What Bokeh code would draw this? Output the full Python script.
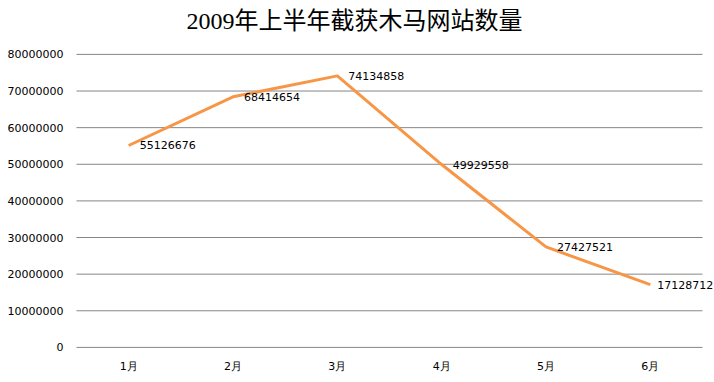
from bokeh.plotting import figure
from bokeh.models import ColumnDataSource, FixedTicker, BasicTickFormatter, Title, Range1d, FactorRange
from bokeh.core.properties import value
from bokeh.transform import dodge
from bokeh.embed import file_html
from bokeh.resources import INLINE

title_text = "2009年上半年截获木马网站数量"
months = ["1月", "2月", "3月", "4月", "5月", "6月"]
counts = [55126676, 68414654, 74134858, 49929558, 27427521, 17128712]
y_ticks = [0, 10000000, 20000000, 30000000, 40000000, 50000000, 60000000, 70000000, 80000000]

src = ColumnDataSource(dict(
    m=months, v=counts, lab=[str(c) for c in counts],
    xo=[11, 11, 11, 11, 11, 7],
))
grid_src = ColumnDataSource(dict(
    y=y_ticks, f0=[months[0]] * len(y_ticks), f1=[months[-1]] * len(y_ticks),
))

xr = FactorRange(*months, range_padding=0.115, range_padding_units="absolute")
p = figure(x_range=xr, y_range=Range1d(-300000, 84340000),
           width=714, height=382, frame_width=650, frame_height=310,
           min_border_left=64, min_border_right=0, min_border_top=38, min_border_bottom=34,
           output_backend="svg", toolbar_location=None,
           background_fill_color="white", border_fill_color="white",
           outline_line_color=None)

t = Title(text=title_text, align="left", offset=122, standoff=10,
          text_font="Liberation Serif, Noto Sans CJK SC",
          text_font_size="24px", text_font_style="normal", text_color="black")
p.add_layout(t, "above")

# horizontal gridlines spanning only the category band
p.segment(x0=dodge("f0", -0.5, range=xr), x1=dodge("f1", 0.5, range=xr),
          y0="y", y1="y", source=grid_src, line_color="#868686", line_width=1)

p.line(x="m", y="v", source=src, line_color="#F79646", line_width=3)
p.text(x="m", y="v", text="lab", source=src, x_offset="xo",
       text_font=value("DejaVu Sans"), text_font_size="11px",
       text_baseline="middle", text_align="left", text_color="black")

p.xgrid.grid_line_color = None
p.ygrid.grid_line_color = None

p.yaxis.ticker = FixedTicker(ticks=y_ticks)
p.yaxis.formatter = BasicTickFormatter(use_scientific=False)
for ax in (p.xaxis, p.yaxis):
    ax.axis_line_color = None
    ax.major_tick_line_color = None
    ax.minor_tick_line_color = None
    ax.major_tick_out = 0
    ax.major_tick_in = 0
    ax.minor_tick_out = 0
    ax.minor_tick_in = 0
    ax.major_label_text_font = "DejaVu Sans"
    ax.major_label_text_font_size = "11px"
    ax.major_label_text_color = "black"
p.yaxis.major_label_standoff = 1
p.xaxis.major_label_standoff = 11

open("out.html", "w").write(file_html(p, INLINE))
